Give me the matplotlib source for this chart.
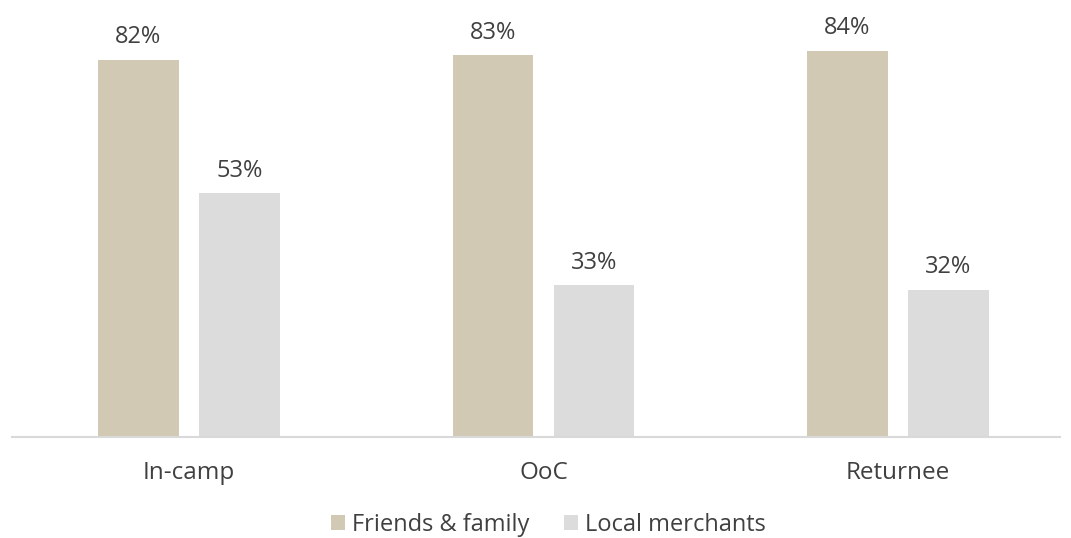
import matplotlib
matplotlib.use("Agg")
import matplotlib.pyplot as plt
import numpy as np

categories = ["In-camp", "OoC", "Returnee"]
series_names = ["Friends & family", "Local merchants"]
friends_family = [82, 83, 84]
local_merchants = [53, 33, 32]

colors = ["#D2C9B4", "#DCDCDC"]
text_color = "#404040"

plt.rcParams["font.family"] = ["Open Sans", "DejaVu Sans"]

fig = plt.figure(figsize=(10.71, 5.38), dpi=100)
ax = fig.add_axes([12 / 1071, 101 / 538, 1048 / 1071, 437 / 538])

x = np.arange(len(categories))
width = 0.226
offset = 0.1425

bars1 = ax.bar(x - offset, friends_family, width, color=colors[0], label=series_names[0])
bars2 = ax.bar(x + offset, local_merchants, width, color=colors[1], label=series_names[1])

for bars, vals in ((bars1, friends_family), (bars2, local_merchants)):
    for b, v in zip(bars, vals):
        ax.text(b.get_x() + b.get_width() / 2, v + 2.3, f"{v}%",
                ha="center", va="bottom", fontsize=17, color=text_color)

ax.set_xlim(-0.4993, 2.457)
ax.set_ylim(0, 95)
ax.set_yticks([])
ax.set_xticks(x)
ax.set_xticklabels(categories, fontsize=17.5, color=text_color)
ax.tick_params(axis="x", length=0, pad=17.5)

for side in ("top", "right", "left"):
    ax.spines[side].set_visible(False)
ax.spines["bottom"].set_color("#D9D9D9")
ax.spines["bottom"].set_linewidth(1.5)

fig.legend(loc="center", bbox_to_anchor=(548.5 / 1071, 1 - 525 / 538), ncol=2,
           frameon=False, fontsize=17, labelcolor=text_color,
           handlelength=0.58, handleheight=0.58, handletextpad=0.3, columnspacing=1.5)

fig.savefig("out.png", dpi=100)
